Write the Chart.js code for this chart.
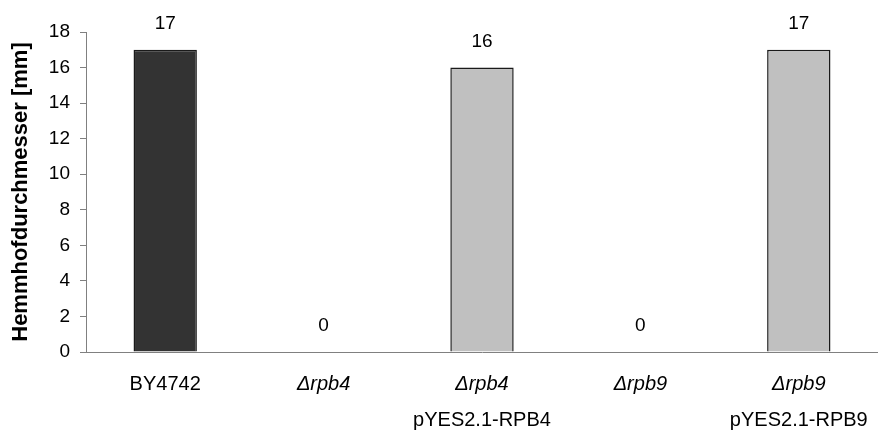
<!DOCTYPE html>
<html>
<head>
<meta charset="utf-8">
<script src="https://cdn.jsdelivr.net/npm/chart.js@4.4.1/dist/chart.umd.min.js"></script>
<style>
  html, body { margin: 0; padding: 0; background: #fff; }
  #wrap { width: 878px; height: 432px; }
</style>
</head>
<body>
<div id="wrap"><canvas id="chart" width="878" height="432"></canvas></div>
<script>
// strain names: first line italic, second line plain
const strainLine1 = ['BY4742', '\u0394rpb4', '\u0394rpb4', '\u0394rpb9', '\u0394rpb9'];
const strainLine2 = ['', '', 'pYES2.1-RPB4', '', 'pYES2.1-RPB9'];
const diameters = [17, 0, 16, 0, 17];
const barColors = ['#333333', '#c0c0c0', '#c0c0c0', '#c0c0c0', '#c0c0c0'];
const yTicks = [0, 2, 4, 6, 8, 10, 12, 14, 16, 18];

const FONT = 'Arial, "Liberation Sans", sans-serif';

// value labels above bars + two-line x labels
const labelPlugin = {
    id: 'labels',
    afterDatasetsDraw(chart) {
        const ctx = chart.ctx;
        const meta = chart.getDatasetMeta(0);
        const xScale = chart.scales.x;
        ctx.save();
        ctx.fillStyle = '#000';
        ctx.textAlign = 'center';
        ctx.textBaseline = 'middle';
        ctx.font = '19px ' + FONT;
        meta.data.forEach((bar, i) => {
            ctx.fillText(String(diameters[i]), bar.x, bar.y - 26);
        });
        strainLine1.forEach((txt, i) => {
            const x = xScale.getPixelForValue(i);
            ctx.font = (i === 0 ? '' : 'italic ') + '20px ' + FONT;
            ctx.fillText(txt, x, 384);
            if (strainLine2[i]) {
                ctx.font = '20px ' + FONT;
                ctx.fillText(strainLine2[i], x, 420);
            }
        });
        ctx.restore();
    }
};

new Chart(document.getElementById('chart').getContext('2d'), {
    type: 'bar',
    data: {
        labels: strainLine1,
        datasets: [{
            data: diameters,
            backgroundColor: barColors,
            borderColor: '#1a1a1a',
            borderWidth: 1.5,
            borderSkipped: 'bottom',
            barPercentage: 0.4,
            categoryPercentage: 1
        }]
    },
    options: {
        responsive: false,
        animation: false,
        layout: { padding: { top: 32, right: 0, bottom: 0, left: 0 } },
        plugins: {
            legend: { display: false },
            tooltip: { enabled: false }
        },
        scales: {
            x: {
                offset: true,
                grid: { display: false },
                border: { color: '#808080', width: 1 },
                ticks: { display: false },
                afterFit: (s) => { s.height = 80; }
            },
            y: {
                min: 0,
                max: 18,
                afterBuildTicks: (s) => { s.ticks = yTicks.map(v => ({ value: v })); },
                grid: {
                    drawOnChartArea: false,
                    tickLength: 6,
                    color: '#808080'
                },
                border: { color: '#808080', width: 1 },
                ticks: {
                    color: '#000',
                    padding: 10,
                    font: { family: FONT, size: 19 }
                },
                title: {
                    display: true,
                    text: 'Hemmhofdurchmesser [mm]',
                    color: '#000',
                    padding: { top: 8, bottom: 0 },
                    font: { family: FONT, size: 22, weight: 'bold' }
                },
                afterFit: (s) => { s.width = 86; }
            }
        }
    },
    plugins: [labelPlugin]
});
</script>
</body>
</html>
